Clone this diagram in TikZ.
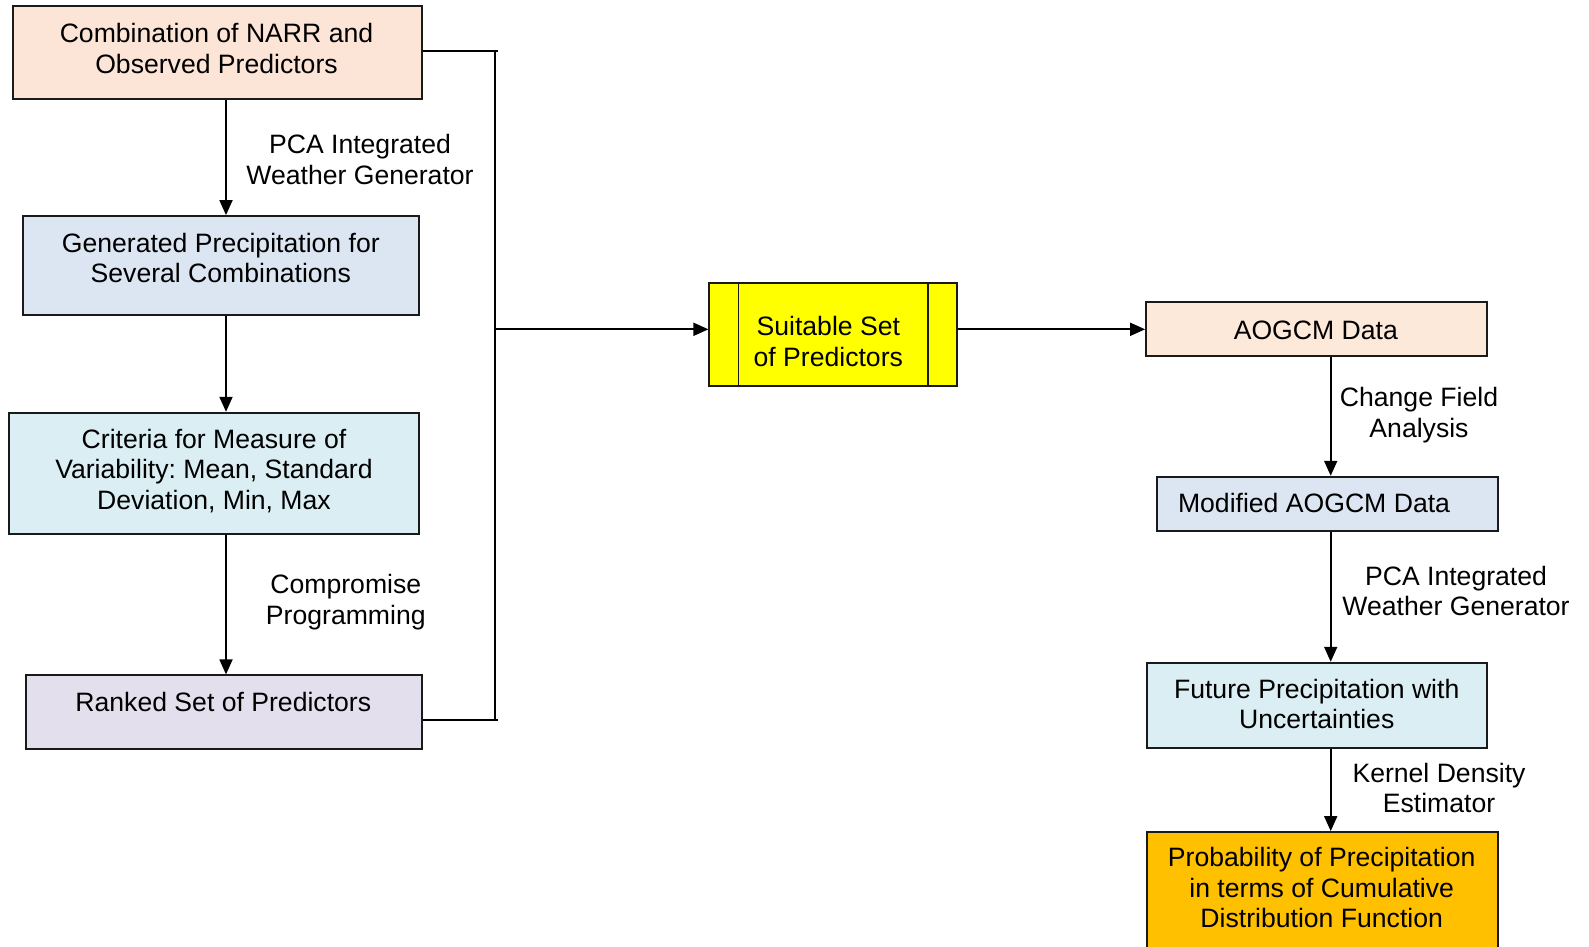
\documentclass[tikz,border=0pt]{standalone}
\usepackage{fontspec}
\setmainfont{Liberation Sans}
\frenchspacing
\usetikzlibrary{arrows.meta,calc}
\definecolor{cPeach}{HTML}{FCE4D6}
\definecolor{cBlueGrey}{HTML}{DCE6F2}
\definecolor{cCyan}{HTML}{DAEEF3}
\definecolor{cLav}{HTML}{E4DFEC}
\definecolor{cYellow}{HTML}{FFFF00}
\definecolor{cPeachB}{HTML}{FDE9D9}
\definecolor{cOrange}{HTML}{FFC000}
\definecolor{cLine}{HTML}{1A1A1A}
\begin{document}
\begin{tikzpicture}[x=1pt,y=-1pt,
  box/.style={draw=cLine, line width=1.8pt, rectangle, inner sep=0pt},
  txt/.style={font=\fontsize{26.6}{30.5}\selectfont, align=center, inner sep=0pt, text=black},
  conn/.style={draw=black, line width=1.8pt},
  arr/.style={conn, -{Triangle[length=15pt,width=13pt]}}]
\useasboundingbox (0,0) rectangle (1589,946);
\fill[white] (0,0) rectangle (1589,946);

% left column boxes
\node[box, fill=cPeach, minimum width=409, minimum height=93.3] (b1) at (217.2,52.65) {};
\node[box, fill=cBlueGrey, minimum width=396.3, minimum height=98.7] (b2) at (220.85,265.35) {};
\node[box, fill=cCyan, minimum width=409.7, minimum height=121.6] (b3) at (214.15,473.5) {};
\node[box, fill=cLav, minimum width=396, minimum height=74] (b4) at (223.7,712.3) {};

% middle
\node[box, fill=cYellow, minimum width=247.4, minimum height=103.3] (b5) at (833,334.35) {};
\draw[draw=cLine, line width=1.8pt] ([xshift=30pt]b5.north west) -- ([xshift=30pt]b5.south west);
\draw[draw=cLine, line width=1.8pt] ([xshift=-30pt]b5.north east) -- ([xshift=-30pt]b5.south east);

% right column
\node[box, fill=cPeachB, minimum width=341, minimum height=54] (b6) at (1316.5,329.3) {};
\node[box, fill=cBlueGrey, minimum width=340.4, minimum height=54.3] (b7) at (1327.5,503.85) {};
\node[box, fill=cCyan, minimum width=340.3, minimum height=85] (b8) at (1316.85,705.2) {};
\node[box, fill=cOrange, minimum width=351, minimum height=130] (b9) at (1322.2,897) {};

% box texts
\node[txt] (t1) at (216.5,48.3) {Combination of NARR and\\Observed Predictors};
\node[txt] (t2) at (220.8,257.9) {Generated Precipitation for\\Several Combinations};
\node[txt] (t3) at (214,471) {Criteria for Measure of\\Variability: Mean, Standard\\Deviation, Min, Max};
\node[txt] (t4) at (223.3,702) {Ranked Set of Predictors};
\node[txt] (t5) at (828.3,341.7) {Suitable Set\\of Predictors};
\node[txt] (t6) at (1315.8,330) {AOGCM Data};
\node[txt] (t7) at (1314,503) {Modified AOGCM Data};
\node[txt] (t8) at (1316.7,703.8) {Future Precipitation with\\Uncertainties};
\node[txt] (t9) at (1321.7,887.8) {Probability of Precipitation\\in terms of Cumulative\\Distribution Function};

% connector labels
\node[txt] (l1) at (360,159.7) {PCA Integrated\\Weather Generator};
\node[txt] (l2) at (345.8,602) {Compromise\\Programming};
\node[txt] (l3) at (1419,415) {Change Field\\Analysis};
\node[txt] (l4) at (1456,590.8) {PCA Integrated\\Weather Generator};
\node[txt] (l5) at (1439,788) {Kernel Density\\Estimator};

% helper coordinates
\coordinate (lx) at (226,0);
\coordinate (rx) at (1330.7,0);
\coordinate (jt) at (495,50.7);
\coordinate (jb) at (495,720);
\coordinate (jm) at (495,329.3);
\coordinate (jend) at (497.5,0);

% left column arrows
\draw[arr] (b1.south -| lx) -- (b2.north -| lx);
\draw[arr] (b2.south -| lx) -- (b3.north -| lx);
\draw[arr] (b3.south -| lx) -- (b4.north -| lx);

% bracket to the middle box
\draw[conn] (b1.east |- jt) -- (jt -| jend);
\draw[conn] (b4.east |- jb) -- (jb -| jend);
\draw[conn] (jt) -- (jb);
\draw[arr] (jm) -- (jm -| b5.west);
\draw[arr] (b5.east |- b6.west) -- (b6.west);

% right column arrows
\draw[arr] (b6.south -| rx) -- (b7.north -| rx);
\draw[arr] (b7.south -| rx) -- (b8.north -| rx);
\draw[arr] (b8.south -| rx) -- (b9.north -| rx);
\end{tikzpicture}
\end{document}
